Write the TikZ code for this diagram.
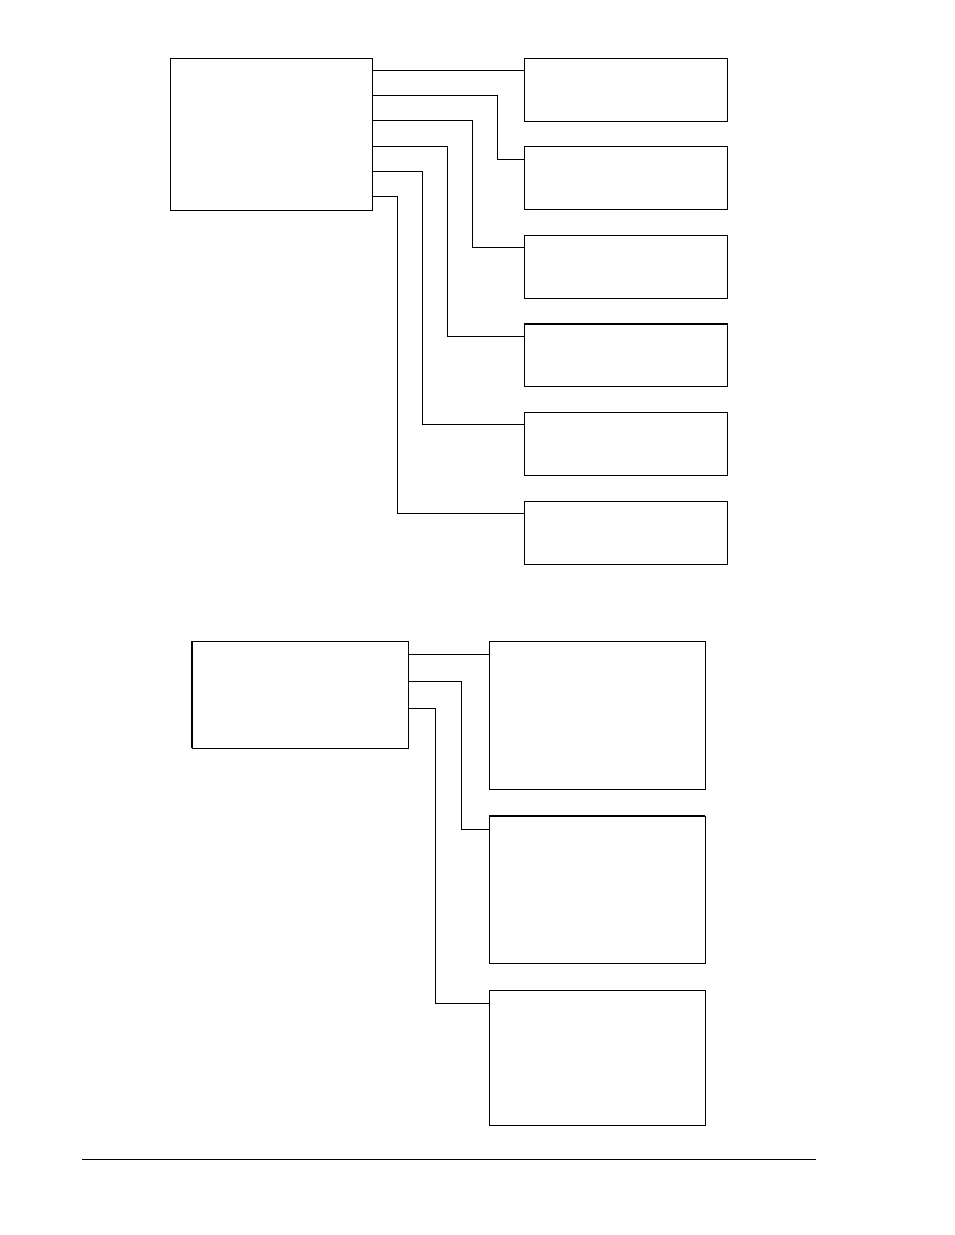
\documentclass[tikz,border=0pt]{standalone}
\usepackage{tikz}
\usetikzlibrary{positioning}
\tikzset{
  blk/.style={draw, line width=0.9pt, inner sep=0pt, outer sep=0pt, anchor=north west},
  wire/.style={line width=0.9pt}
}
\begin{document}
\begin{tikzpicture}[x=1pt, y=-1pt]
  \useasboundingbox (0,0) rectangle (954,1235);

  %% upper tree
  \node[blk, minimum width=202pt, minimum height=152pt] (A) at (170,58) {};
  \foreach \i in {1,...,6}
    \node[blk, minimum width=203pt, minimum height=63pt] (r\i) at ({524}, {58+88.6*(\i-1)}) {};
  \draw[line width=1.6pt] (r4.north west) -- (r4.north east);

  \draw[wire] ([yshift=-12.3pt]A.north east) -- ([yshift=-12.3pt]r1.north west); % A->r1
  \foreach \i in {2,...,6}
    \draw[wire] ([yshift={-12.3-25.3*(\i-1)}]A.north east) -- ++({174.8-24.9*\i},0)
      |- ([yshift=-12.5pt]r\i.north west); % A->r_i

  %% lower tree
  \node[blk, minimum width=216pt, minimum height=107pt] (B) at (192,641) {};
  \draw[line width=1.6pt] (B.north west) -- (B.south west);
  \node[blk, minimum width=216pt, minimum height=148pt] (q1) at (489,641) {};
  \node[blk, minimum width=216pt, minimum height=147pt] (q2) at (489,816) {};
  \node[blk, minimum width=216pt, minimum height=135pt] (q3) at (489,990) {};
  \draw[line width=1.6pt] (q2.north west) -- (q2.north east);

  \draw[wire] ([yshift=-13pt]B.north east) -- ([yshift=-13pt]q1.north west); % B->q1
  \draw[wire] ([yshift=-40pt]B.north east) -- ++(53,0) |- ([yshift=-13pt]q2.north west); % B->q2
  \draw[wire] ([yshift=-67pt]B.north east) -- ++(27,0) |- ([yshift=-13pt]q3.north west); % B->q3

  % footer rule
  \coordinate (f1) at (82,1159);
  \coordinate (f2) at (816,1159);
  \draw[wire] (f1) -- (f2);
\end{tikzpicture}
\end{document}
